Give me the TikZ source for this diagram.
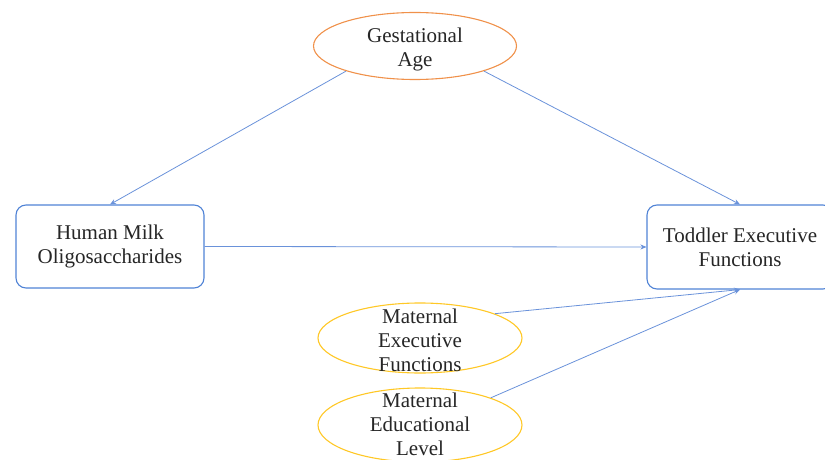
\documentclass[tikz,border=0pt]{standalone}
\usepackage{fontspec}
\setmainfont{Liberation Serif}
\usetikzlibrary{shapes.geometric,arrows.meta}
\definecolor{boxblue}{HTML}{5083D6}
\definecolor{arrblue}{HTML}{6A92DA}
\definecolor{gorange}{HTML}{F0914A}
\definecolor{myellow}{HTML}{FFC826}
\begin{document}
\begin{tikzpicture}[x=1pt,y=-1pt,
  every node/.style={font=\fontsize{21}{24}\selectfont, align=center, inner sep=0pt, text=black!85},
  oval/.style={ellipse, draw=#1, line width=1.1pt, fill=white},
  rbox/.style={rectangle, rounded corners=10pt, draw=boxblue, line width=1.1pt, fill=white},
  conn/.style={draw=arrblue, line width=0.8pt, -{Stealth[length=6pt,width=5pt]}}]
\useasboundingbox (0,0) rectangle (825,460);
\clip (0,0) rectangle (825,460);
\node[oval=gorange, minimum width=203pt, minimum height=67pt,
  label={[yshift=-3pt]center:{Gestational\\Age}}] (g) at (415,46) {};
\node[rbox, minimum width=188pt, minimum height=83pt] (hmo) at (110,246.5) {Human Milk\\Oligosaccharides};
\node[rbox, minimum width=186pt, minimum height=84pt] (tef) at (740,247) {Toddler Executive\\Functions};
\node[oval=myellow, minimum width=204pt, minimum height=70pt,
  label={[yshift=-2pt]center:{Maternal\\Executive\\Functions}}] (m1) at (420,338) {};
\node[oval=myellow, minimum width=204pt, minimum height=74pt,
  label={[yshift=1pt]center:{Maternal\\Educational\\Level}}] (m2) at (420,425) {};
\draw[conn] (g.200) -- (hmo.north);
\draw[conn] (g.340) -- (tef.north);
\draw[conn] (hmo.east) -- (tef.west);
\draw[conn] (m1.18) -- (tef.south);
\draw[conn] (m2.21) -- (tef.south);
\end{tikzpicture}
\end{document}
